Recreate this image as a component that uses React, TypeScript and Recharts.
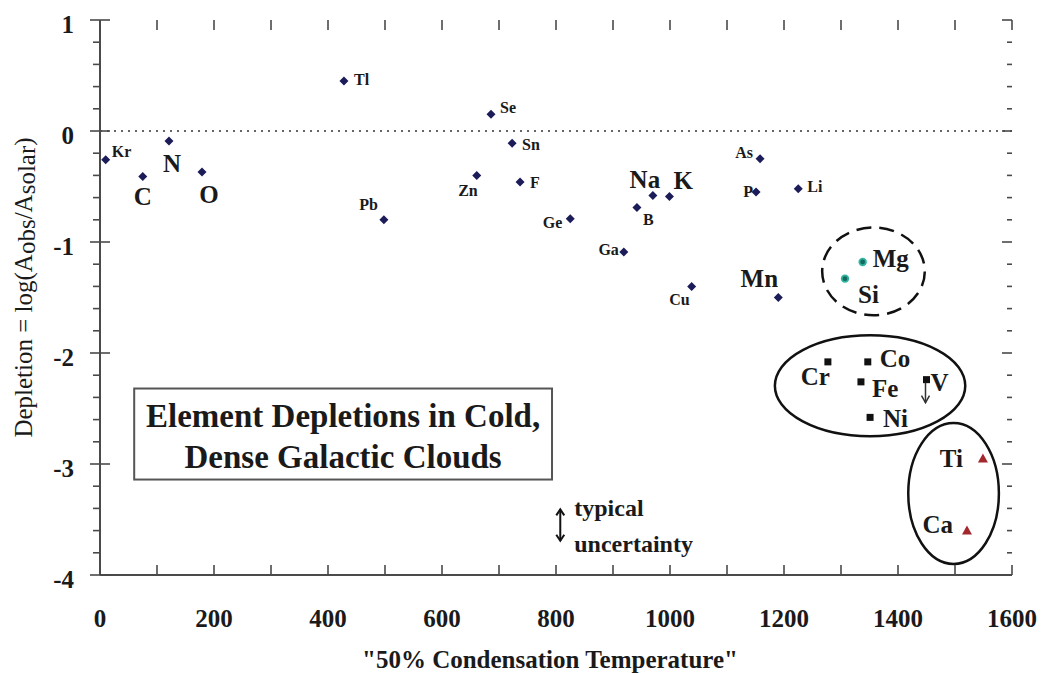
import React from "react";
import { ScatterChart, Scatter, XAxis, YAxis, ReferenceLine, ReferenceArea, Label } from "recharts";

// 50% condensation temperature (K) and depletion log(Aobs/Asolar)
const volatileElements = [
  { el: "Kr", temp: 10, dep: -0.26 },
  { el: "C", temp: 75, dep: -0.41 },
  { el: "N", temp: 121, dep: -0.09 },
  { el: "O", temp: 179, dep: -0.37 },
  { el: "Tl", temp: 428, dep: 0.45 },
  { el: "Pb", temp: 498, dep: -0.8 },
  { el: "Zn", temp: 661, dep: -0.4 },
  { el: "Se", temp: 686, dep: 0.15 },
  { el: "Sn", temp: 723, dep: -0.11 },
  { el: "F", temp: 737, dep: -0.46 },
  { el: "Ge", temp: 825, dep: -0.79 },
  { el: "Ga", temp: 919, dep: -1.09 },
  { el: "B", temp: 942, dep: -0.69 },
  { el: "Na", temp: 970, dep: -0.58 },
  { el: "K", temp: 999, dep: -0.59 },
  { el: "Cu", temp: 1038, dep: -1.4 },
  { el: "P", temp: 1151, dep: -0.55 },
  { el: "As", temp: 1158, dep: -0.25 },
  { el: "Mn", temp: 1190, dep: -1.5 },
  { el: "Li", temp: 1225, dep: -0.52 },
];

const silicateElements = [
  { el: "Si", temp: 1307, dep: -1.33 },
  { el: "Mg", temp: 1338, dep: -1.18 },
];

const ironGroupElements = [
  { el: "Cr", temp: 1277, dep: -2.08 },
  { el: "Fe", temp: 1335, dep: -2.26 },
  { el: "Co", temp: 1347, dep: -2.08 },
  { el: "Ni", temp: 1351, dep: -2.58 },
  { el: "V", temp: 1450, dep: -2.24 },
];

const refractoryElements = [
  { el: "Ca", temp: 1521, dep: -3.6 },
  { el: "Ti", temp: 1549, dep: -2.95 },
];

// V is only an upper limit
const upperLimits = ["V"];

const xTicks = [0, 100, 200, 300, 400, 500, 600, 700, 800, 900, 1000, 1100, 1200, 1300, 1400, 1500, 1600];
const yTicks = [1, 0.8, 0.6, 0.4, 0.2, 0, -0.2, -0.4, -0.6, -0.8, -1, -1.2, -1.4, -1.6, -1.8, -2, -2.2, -2.4, -2.6, -2.8, -3, -3.2, -3.4, -3.6, -3.8, -4];

const SERIF = '"Liberation Serif", "Times New Roman", serif';
const AXIS = "#4a4a4a";
const INK = "#1a1a1a";

const W = 1041;
const H = 673;
const MARGIN = { top: 20, right: 29, bottom: 0, left: 0 };
const PLOT_TOP = MARGIN.top;
const PLOT_RIGHT = W - MARGIN.right;

// [anchor, dx, dy, fontSize] for each element name
const LABEL_POS: Record<string, [string, number, number, number]> = {
  Kr: ["start", 6, -3, 16],
  Tl: ["start", 10, 4, 16],
  Se: ["start", 9, -1, 16],
  Sn: ["start", 10, 7, 16],
  Zn: ["end", 1, 21, 16],
  F: ["start", 10, 6, 16],
  Pb: ["end", -6, -10, 16],
  Ge: ["end", -8, 9, 16],
  Ga: ["end", -5, 3, 16],
  B: ["start", 6, 17, 16],
  As: ["end", -7, -1, 16],
  P: ["end", -3, 5, 16],
  Li: ["start", 9, 3, 16],
  Cu: ["end", -2, 19, 16],
  C: ["middle", 0, 28, 25],
  N: ["middle", 3, 31, 25],
  O: ["middle", 7, 31, 25],
  Na: ["middle", -8, -7, 25],
  K: ["start", 4, -7, 25],
  Mn: ["middle", -19, -11, 25],
  Mg: ["start", 10, 5, 25],
  Si: ["start", 13, 24, 25],
  Cr: ["end", 2, 23, 25],
  Co: ["start", 12, 5, 25],
  Fe: ["start", 11, 15, 25],
  V: ["start", 4, 11, 25],
  Ni: ["start", 13, 10, 25],
  Ti: ["end", -20, 9, 25],
  Ca: ["end", -14, 2, 25],
};

const ElementLabel = ({ cx, cy, el }: any) => {
  const [anchor, dx, dy, size] = LABEL_POS[el] || ["start", 6, 0, 16];
  return (
    <text x={cx + dx} y={cy + dy} textAnchor={anchor as any} fontFamily={SERIF} fontWeight="bold" fontSize={size} fill={INK}>
      {el}
    </text>
  );
};

const diamondShape = (props: any) => {
  const { cx, cy, payload } = props;
  return (
    <g>
      <polygon points={`${cx},${cy - 4.5} ${cx + 4.5},${cy} ${cx},${cy + 4.5} ${cx - 4.5},${cy}`} fill="#1c1c58" />
      <ElementLabel cx={cx} cy={cy} el={payload.el} />
    </g>
  );
};

const circleShape = (props: any) => {
  const { cx, cy, payload } = props;
  return (
    <g>
      <circle cx={cx} cy={cy} r={3.3} fill="#136b60" stroke="#2fb59f" strokeWidth={1.8} />
      <ElementLabel cx={cx} cy={cy} el={payload.el} />
    </g>
  );
};

const squareShape = (props: any) => {
  const { cx, cy, payload } = props;
  const limit = upperLimits.includes(payload.el);
  return (
    <g>
      <rect x={cx - 3.5} y={cy - 3.5} width={7} height={7} fill="#111" />
      {limit && (
        <g stroke="#333" strokeWidth={1.5} fill="none">
          <line x1={cx - 1} y1={cy + 3} x2={cx - 1} y2={cy + 23} />
          <polyline points={`${cx - 5},${cy + 16} ${cx - 1},${cy + 23} ${cx + 3},${cy + 16}`} />
        </g>
      )}
      <ElementLabel cx={cx} cy={cy} el={payload.el} />
    </g>
  );
};

const triangleShape = (props: any) => {
  const { cx, cy, payload } = props;
  return (
    <g>
      <polygon points={`${cx},${cy - 5} ${cx + 5},${cy + 4} ${cx - 5},${cy + 4}`} fill="#a3282d" />
      <ElementLabel cx={cx} cy={cy} el={payload.el} />
    </g>
  );
};

// bottom ticks also draw the matching inward tick on the top frame
const BottomTick = ({ x, y, payload }: any) => {
  const v = payload.value;
  return (
    <g>
      <line x1={x} y1={y} x2={x} y2={y - 10} stroke={AXIS} strokeWidth={1.6} />
      <line x1={x} y1={PLOT_TOP} x2={x} y2={PLOT_TOP + 10} stroke={AXIS} strokeWidth={1.6} />
      {v % 200 === 0 && (
        <text x={x} y={y + 52} textAnchor="middle" fontFamily={SERIF} fontWeight="bold" fontSize={25} fill={INK}>
          {v}
        </text>
      )}
    </g>
  );
};

// left ticks also draw the matching inward tick on the right frame
const LeftTick = ({ x, y, payload }: any) => {
  const v = payload.value;
  const major = Number.isInteger(v);
  return (
    <g>
      <line x1={major ? x - 10 : x - 7} y1={y} x2={major ? x + 10 : x} y2={y} stroke={AXIS} strokeWidth={1.6} />
      <line x1={PLOT_RIGHT} y1={y} x2={PLOT_RIGHT - (major ? 10 : 5)} y2={y} stroke={AXIS} strokeWidth={1.6} />
      {major && (
        <text x={x - 26} y={y + 4} textAnchor="end" dominantBaseline="central" fontFamily={SERIF} fontWeight="bold" fontSize={25} fill={INK}>
          {v}
        </text>
      )}
    </g>
  );
};

const YTitle = ({ viewBox }: any) => {
  const cx = 23;
  const cy = viewBox.y + viewBox.height / 2 - 10;
  return (
    <text x={cx} y={cy} transform={`rotate(-90, ${cx}, ${cy})`} textAnchor="middle" dominantBaseline="central" fontFamily={SERIF} fontSize={25} fill={INK}>
      <tspan>Depletion = log(A</tspan>
      <tspan dy={3}>obs</tspan>
      <tspan dy={-3}>/A</tspan>
      <tspan dy={3}>solar</tspan>
      <tspan dy={-3}>)</tspan>
    </text>
  );
};

const XTitle = ({ viewBox }: any) => (
  <text x={viewBox.x + viewBox.width / 2 - 6} y={668} textAnchor="middle" fontFamily={SERIF} fontWeight="bold" fontSize={25} fill={INK}>
    "50% Condensation Temperature"
  </text>
);

const ellipseShape = (dashed: boolean) => (props: any) => {
  const { x, y, width, height } = props;
  return (
    <ellipse
      cx={x + width / 2}
      cy={y + height / 2}
      rx={width / 2}
      ry={height / 2}
      fill="none"
      stroke="#111"
      strokeWidth={2.5}
      strokeDasharray={dashed ? "15 8" : undefined}
    />
  );
};

const titleBox = (props: any) => {
  const { x, y, width, height } = props;
  const mid = x + width / 2;
  return (
    <g>
      <rect x={x} y={y} width={width} height={height} fill="#fff" stroke="#555" strokeWidth={2} />
      <text x={mid} y={y + 38} textAnchor="middle" fontFamily={SERIF} fontWeight="bold" fontSize={33} fill={INK}>
        Element Depletions in Cold,
      </text>
      <text x={mid} y={y + 79} textAnchor="middle" fontFamily={SERIF} fontWeight="bold" fontSize={33} fill={INK}>
        Dense Galactic Clouds
      </text>
    </g>
  );
};

const uncertaintyMark = (props: any) => {
  const { x, y, width, height } = props;
  const ax = x + width / 2;
  return (
    <g>
      <g stroke="#111" strokeWidth={2} fill="none">
        <line x1={ax} y1={y + 1} x2={ax} y2={y + height - 1} />
        <polyline points={`${ax - 4},${y + 7} ${ax},${y + 1} ${ax + 4},${y + 7}`} />
        <polyline points={`${ax - 4},${y + height - 7} ${ax},${y + height - 1} ${ax + 4},${y + height - 7}`} />
      </g>
      <text x={ax + 14} y={y + 8} fontFamily={SERIF} fontWeight="bold" fontSize={24} fill={INK}>
        typical
      </text>
      <text x={ax + 14} y={y + 44} fontFamily={SERIF} fontWeight="bold" fontSize={24} fill={INK}>
        uncertainty
      </text>
    </g>
  );
};

export default function App() {
  return (
    <div style={{ position: "absolute", left: 0, top: 0, width: W, height: H, background: "#fff" }}>
      <ScatterChart width={W} height={H} margin={MARGIN}>
        <XAxis
          type="number"
          dataKey="temp"
          domain={[0, 1600]}
          ticks={xTicks}
          interval={0}
          height={98}
          tickSize={0}
          tickMargin={0}
          tickLine={false}
          axisLine={{ stroke: AXIS, strokeWidth: 2 }}
          tick={BottomTick}
          allowDataOverflow
        >
          <Label content={XTitle} />
        </XAxis>
        <XAxis
          xAxisId="top"
          orientation="top"
          type="number"
          domain={[0, 1600]}
          height={0}
          tick={false}
          tickLine={false}
          axisLine={{ stroke: AXIS, strokeWidth: 2 }}
          allowDataOverflow
        />
        <YAxis
          type="number"
          dataKey="dep"
          domain={[-4, 1]}
          ticks={yTicks}
          interval={0}
          width={100}
          tickSize={0}
          tickMargin={0}
          tickLine={false}
          axisLine={{ stroke: AXIS, strokeWidth: 2 }}
          tick={LeftTick}
          allowDataOverflow
        >
          <Label content={YTitle} />
        </YAxis>
        <YAxis
          yAxisId="right"
          orientation="right"
          type="number"
          domain={[-4, 1]}
          width={0}
          tick={false}
          tickLine={false}
          axisLine={{ stroke: AXIS, strokeWidth: 2 }}
          allowDataOverflow
        />

        <ReferenceLine y={0} stroke="#666" strokeWidth={2} strokeDasharray="2 5" />

        <ReferenceArea x1={60} x2={793} y1={-2.32} y2={-3.14} shape={titleBox} />
        <ReferenceArea x1={800} x2={815} y1={-3.4} y2={-3.7} shape={uncertaintyMark} />
        <ReferenceArea x1={1267} x2={1447} y1={-0.87} y2={-1.66} shape={ellipseShape(true)} />
        <ReferenceArea x1={1184} x2={1518} y1={-1.84} y2={-2.75} shape={ellipseShape(false)} />
        <ReferenceArea x1={1418} x2={1577} y1={-2.63} y2={-3.9} shape={ellipseShape(false)} />

        <Scatter data={volatileElements} shape={diamondShape} isAnimationActive={false} />
        <Scatter data={silicateElements} shape={circleShape} isAnimationActive={false} />
        <Scatter data={ironGroupElements} shape={squareShape} isAnimationActive={false} />
        <Scatter data={refractoryElements} shape={triangleShape} isAnimationActive={false} />
      </ScatterChart>
    </div>
  );
}
